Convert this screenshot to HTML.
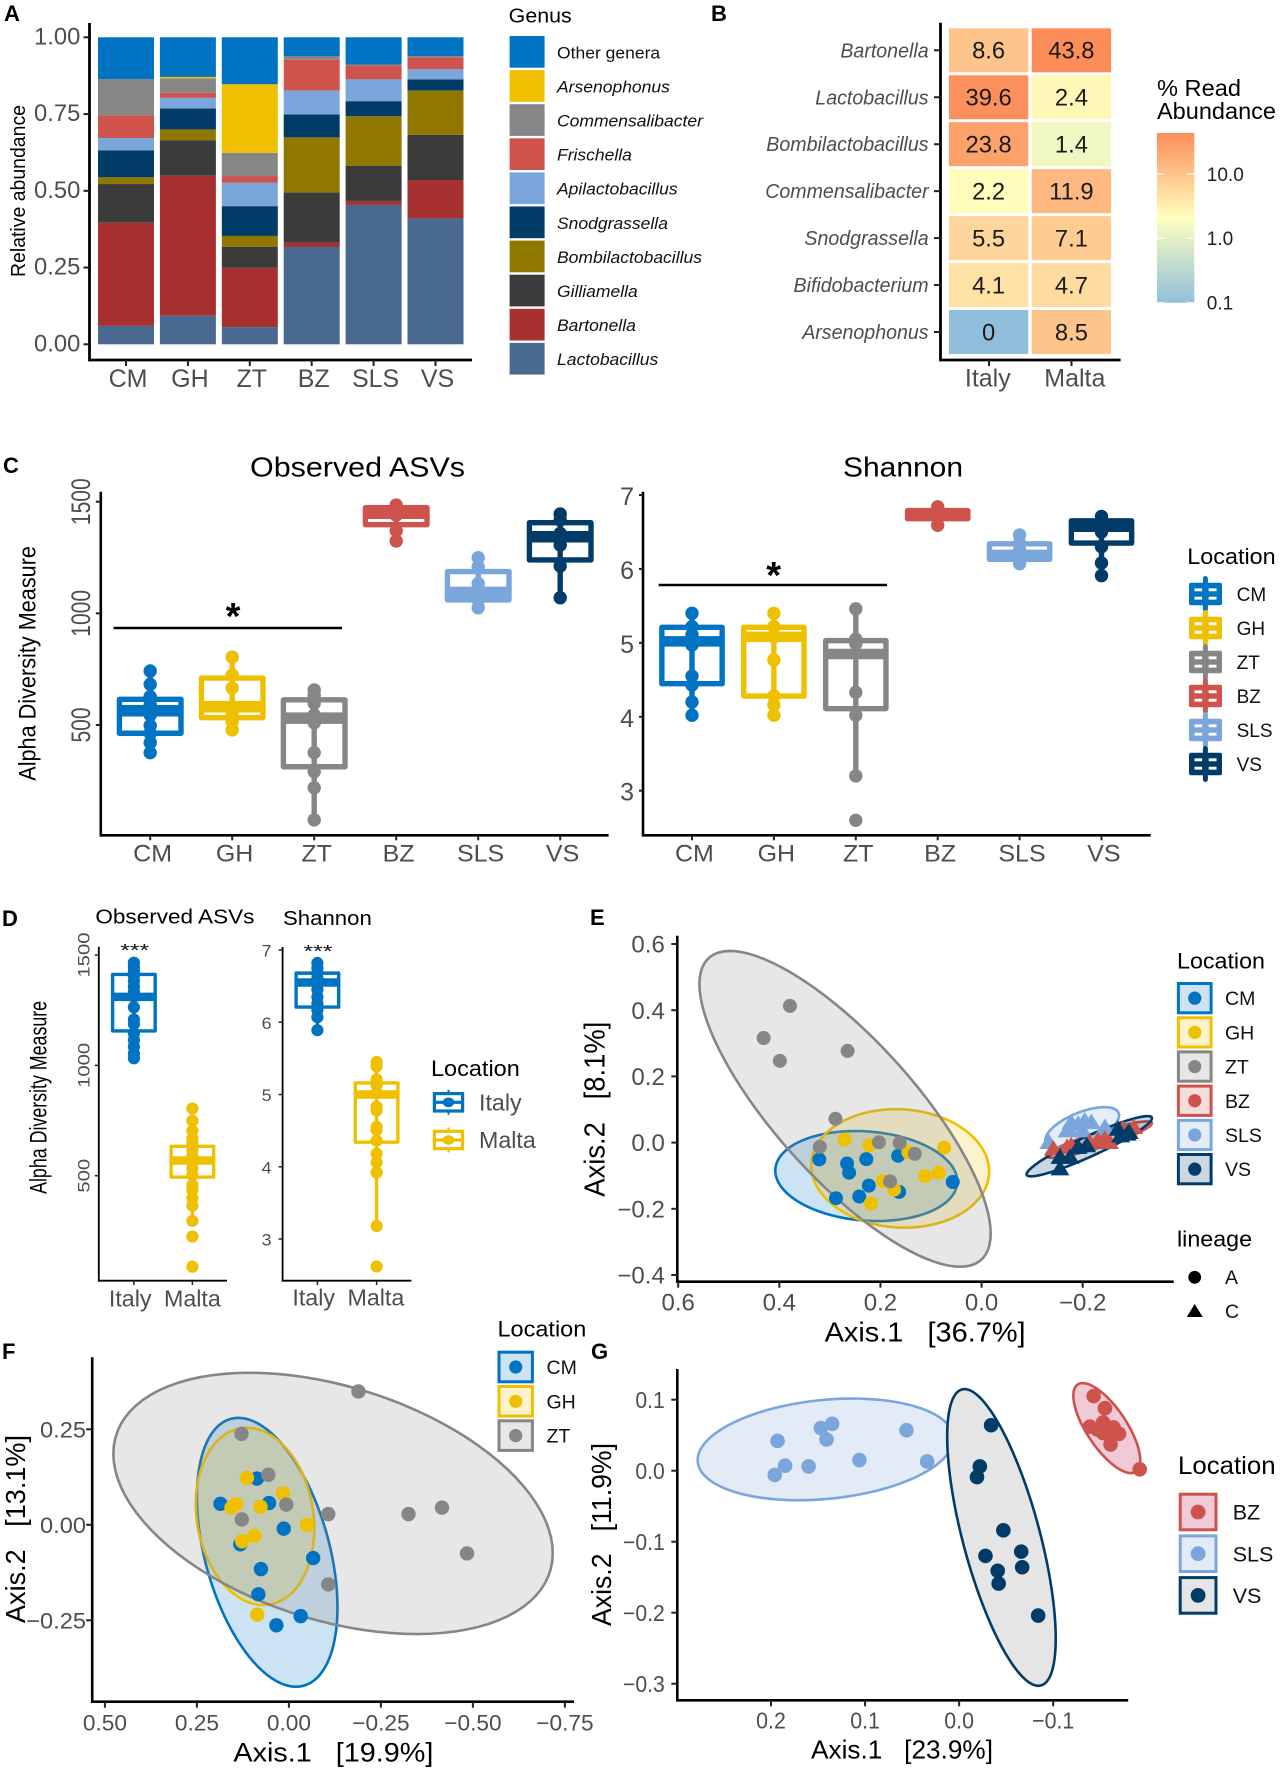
<!DOCTYPE html>
<html lang="en">
<head>
<meta charset="utf-8">
<title>Bee gut microbiota composite figure</title>
<style>
html,body{margin:0;padding:0;background:#fff;}
svg{display:block;font-family:"Liberation Sans",sans-serif;}
</style>
</head>
<body>
<svg id="figure" xmlns="http://www.w3.org/2000/svg" width="1280" height="1772" viewBox="0 0 1280 1772">
  <defs>
    <linearGradient id="heat-gradient" x1="0" y1="1" x2="0" y2="0">
      <stop offset="0" stop-color="#91BFDB"/>
      <stop offset="0.5" stop-color="#FFFFBF"/>
      <stop offset="1" stop-color="#FC8D59"/>
    </linearGradient>
  </defs>
  <rect x="0" y="0" width="1280" height="1772" fill="#fff"/>

  <g id="panel-a">
    <text x="4" y="21" font-size="22" font-weight="bold">A</text>
    <text transform="translate(25 191) rotate(-90)" text-anchor="middle" font-size="20" textLength="172" lengthAdjust="spacingAndGlyphs">Relative abundance</text>
    <text x="508.7" y="22.7" font-size="20.5" textLength="63" lengthAdjust="spacingAndGlyphs">Genus</text>
  </g>

  <g id="panel-b">
    <text x="711" y="21" font-size="22" font-weight="bold">B</text>
    <text x="1157" y="96" font-size="23" textLength="84" lengthAdjust="spacingAndGlyphs">% Read</text>
    <text x="1157" y="119" font-size="23" textLength="119" lengthAdjust="spacingAndGlyphs">Abundance</text>
    <rect x="1157" y="133" width="37.3" height="169.7" fill="url(#heat-gradient)"/>
  </g>

  <g id="panel-c">
    <text x="3" y="473" font-size="22" font-weight="bold">C</text>
    <text x="250" y="476.7" font-size="28" textLength="215" lengthAdjust="spacingAndGlyphs">Observed ASVs</text>
    <text x="843" y="476.7" font-size="28" textLength="120" lengthAdjust="spacingAndGlyphs">Shannon</text>
    <text transform="translate(35.5 663.4) rotate(-90)" text-anchor="middle" font-size="24" textLength="234.7" lengthAdjust="spacingAndGlyphs">Alpha Diversity Measure</text>
    <text x="1187.3" y="564" font-size="22" textLength="88.4" lengthAdjust="spacingAndGlyphs">Location</text>
  </g>

  <g id="panel-d">
    <text x="2" y="926" font-size="22" font-weight="bold">D</text>
    <text x="95.4" y="923.3" font-size="20.5" textLength="159" lengthAdjust="spacingAndGlyphs">Observed ASVs</text>
    <text x="283" y="925" font-size="20.5" textLength="88.8" lengthAdjust="spacingAndGlyphs">Shannon</text>
    <text transform="translate(46.5 1097.4) rotate(-90)" text-anchor="middle" font-size="24" textLength="193" lengthAdjust="spacingAndGlyphs">Alpha Diversity Measure</text>
    <text x="431" y="1076" font-size="22" textLength="88.8" lengthAdjust="spacingAndGlyphs">Location</text>
  </g>

  <g id="panel-e">
    <text x="590" y="925" font-size="22" font-weight="bold">E</text>
    <text x="824.6" y="1341.7" font-size="28" textLength="201" lengthAdjust="spacingAndGlyphs">Axis.1 &#160; [36.7%]</text>
    <text transform="translate(604.5 1109.2) rotate(-90)" text-anchor="middle" font-size="29" textLength="175" lengthAdjust="spacingAndGlyphs">Axis.2 &#160; [8.1%]</text>
    <text x="1177" y="968.3" font-size="22" textLength="88" lengthAdjust="spacingAndGlyphs">Location</text>
    <text x="1177" y="1246.7" font-size="22" textLength="75" lengthAdjust="spacingAndGlyphs">lineage</text>
  </g>

  <g id="panel-f">
    <text x="2" y="1359" font-size="22" font-weight="bold">F</text>
    <text x="233.4" y="1761.7" font-size="27" textLength="200" lengthAdjust="spacingAndGlyphs">Axis.1 &#160; [19.9%]</text>
    <text transform="translate(24.9 1529) rotate(-90)" text-anchor="middle" font-size="28" textLength="188" lengthAdjust="spacingAndGlyphs">Axis.2 &#160; [13.1%]</text>
    <text x="497.5" y="1336.7" font-size="22" textLength="88.8" lengthAdjust="spacingAndGlyphs">Location</text>
  </g>

  <g id="panel-g">
    <text x="591" y="1359" font-size="22" font-weight="bold">G</text>
    <text x="811" y="1758.3" font-size="26" textLength="182" lengthAdjust="spacingAndGlyphs">Axis.1 &#160; [23.9%]</text>
    <text transform="translate(611 1534.5) rotate(-90)" text-anchor="middle" font-size="28" textLength="183" lengthAdjust="spacingAndGlyphs">Axis.2 &#160; [11.9%]</text>
    <text x="1178" y="1474" font-size="25" textLength="97.6" lengthAdjust="spacingAndGlyphs">Location</text>
  </g>
</svg>

<script>
/* ---------- shared categories ---------- */
const sites = ['CM','GH','ZT','BZ','SLS','VS'];
const siteColors = ['#0073C2','#EFC000','#868686','#CD534C','#7AA6DC','#003C67'];

/* ---------- panel A: stacked bars ---------- */
const aTicks = [0,0.25,0.5,0.75,1];
const aTickLabels = ['0.00','0.25','0.50','0.75','1.00'];
const lactobacillus = [0.060,0.093,0.056,0.317,0.454,0.410];
const bartonella = [0.336,0.456,0.193,0.014,0.013,0.125];
const gilliamella = [0.126,0.116,0.069,0.164,0.114,0.147];
const bombilactobacillus = [0.022,0.035,0.035,0.179,0.162,0.145];
const snodgrassella = [0.088,0.068,0.097,0.075,0.049,0.036];
const apilactobacillus = [0.040,0.035,0.076,0.078,0.071,0.033];
const frischella = [0.074,0.016,0.022,0.100,0.046,0.039];
const commensalibacter = [0.118,0.047,0.076,0.012,0.002,0.004];
const arsenophonus = [0,0.005,0.223,0,0,0];
const otherGenera = [0.136,0.129,0.153,0.061,0.089,0.061];
const genusNames = ['Lactobacillus','Bartonella','Gilliamella','Bombilactobacillus','Snodgrassella','Apilactobacillus','Frischella','Commensalibacter','Arsenophonus','Other genera'];
const genusColors = ['#4A6990','#A73030','#3B3B3B','#8F7700','#003C67','#7AA6DC','#CD534C','#868686','#EFC000','#0073C2'];
const genusSeries = [lactobacillus,bartonella,gilliamella,bombilactobacillus,snodgrassella,apilactobacillus,frischella,commensalibacter,arsenophonus,otherGenera];

/* ---------- panel B: heatmap ---------- */
const heatGenera = ['Bartonella','Lactobacillus','Bombilactobacillus','Commensalibacter','Snodgrassella','Bifidobacterium','Arsenophonus'];
const heatCountries = ['Italy','Malta'];
const heatItaly = [8.6,39.6,23.8,2.2,5.5,4.1,0];
const heatMalta = [43.8,2.4,1.4,11.9,7.1,4.7,8.5];
const heatLegendTicks = [0.1,1,10];
const heatLegendLabels = ['0.1','1.0','10.0'];

/* ---------- panel C: Observed ASVs ---------- */
const cObsTicks = [500,1000,1500];
const cObsQ1 = [463,533,313,1397,1060,1239];
const cObsMedian = [564,582,531,1448,1094,1343];
const cObsQ3 = [615,710,613,1473,1187,1406];
const cObsLow = [376,478,75,1324,1025,1070];
const cObsHigh = [742,804,657,1485,1249,1445];
const cObsCM = [742,682,627,590,564,545,497,463,421,376];
const cObsGH = [804,724,666,582,560,515,478];
const cObsZT = [657,634,597,545,510,376,291,219,75];
const cObsBZ = [1485,1460,1440,1370,1324];
const cObsSLS = [1249,1209,1134,1090,1060,1025];
const cObsVS = [1445,1418,1358,1328,1306,1212,1070];

/* ---------- panel C: Shannon ---------- */
const cShanTicks = [3,4,5,6,7];
const cShanQ1 = [4.447,4.28,4.11,6.68,6.13,6.35];
const cShanMedian = [5.02,5.08,4.85,6.74,6.19,6.57];
const cShanQ3 = [5.21,5.21,5.03,6.79,6.34,6.65];
const cShanLow = [4.02,4.02,3.20,6.59,6.07,5.91];
const cShanHigh = [5.40,5.40,5.46,6.84,6.46,6.71];
const cShanCM = [5.40,5.22,5.11,5.02,4.97,4.55,4.43,4.20,4.02];
const cShanGH = [5.40,5.22,5.08,4.77,4.28,4.16,4.02];
const cShanZT = [5.46,5.05,4.99,4.86,4.33,4.02,3.20,2.60];
const cShanBZ = [6.84,6.73,6.59];
const cShanSLS = [6.46,6.35,6.26,6.17,6.07];
const cShanVS = [6.71,6.62,6.50,6.30,6.08,5.91];

/* ---------- panel D ---------- */
const countries = ['Italy','Malta'];
const countryColors = ['#0073C2','#EFC000'];
const dObsTicks = [500,1000,1500];
const dObsQ1 = [1156,494];
const dObsMedian = [1310,569];
const dObsQ3 = [1412,633];
const dObsLow = [1032,295];
const dObsHigh = [1465,804];
const dObsItaly = [1465,1447,1427,1405,1382,1356,1334,1311,1263,1208,1187,1145,1115,1085,1054,1032];
const dObsMalta = [804,749,704,669,647,616,586,563,533,503,458,435,397,364,295,224,88];
const dShanTicks = [3,4,5,6,7];
const dShanQ1 = [6.21,4.34];
const dShanMedian = [6.55,5.0];
const dShanQ3 = [6.68,5.16];
const dShanLow = [5.89,3.18];
const dShanHigh = [6.82,5.45];
const dShanItaly = [6.82,6.75,6.68,6.61,6.54,6.45,6.35,6.26,6.17,6.07,5.89];
const dShanMalta = [5.45,5.39,5.21,5.13,5.02,4.83,4.78,4.55,4.51,4.36,4.18,4.06,3.92,3.18,2.62];

/* ---------- panel E ---------- */
const eXTicks = [0.6,0.4,0.2,0,-0.2];
const eXLabels = ['0.6','0.4','0.2','0.0','\u22120.2'];
const eYTicks = [0.6,0.4,0.2,0,-0.2,-0.4];
const eYLabels = ['0.6','0.4','0.2','0.0','\u22120.2','\u22120.4'];
const eEllipseCx = [0.228,0.161,0.270,-0.233,-0.199,-0.213];
const eEllipseCy = [-0.101,-0.078,0.102,0.009,0.045,-0.011];
const eEllipseHx = [0.180,0.176,0.288,0.104,0.073,0.124];
const eEllipseHy = [0.136,0.179,0.477,0.055,0.062,0.091];
const eEllipseRho = [0.12,0.05,0.79,-0.90,-0.60,-0.93];
const eCMx = [0.321,0.266,0.262,0.228,0.165,0.223,0.288,0.242,0.163,0.057];
const eCMy = [-0.051,-0.063,-0.091,-0.050,-0.040,-0.130,-0.168,-0.163,-0.149,-0.119];
const eGHx = [0.271,0.222,0.145,0.074,0.112,0.085,0.195,0.173,0.219];
const eGHy = [0.009,-0.008,-0.029,-0.015,-0.101,-0.091,-0.116,-0.142,-0.184];
const eZTx = [0.379,0.431,0.399,0.265,0.289,0.320,0.203,0.162,0.132,0.181];
const eZTy = [0.413,0.316,0.247,0.277,0.072,-0.013,0.001,-0.001,-0.034,-0.117];
const eBZx = [-0.142,-0.169,-0.213,-0.230,-0.244,-0.253,-0.301,-0.279,-0.177];
const eBZy = [-0.018,-0.013,0.002,0.007,0.012,0.002,0.047,0.042,-0.008];
const eSLSx = [-0.133,-0.169,-0.177,-0.191,-0.204,-0.217,-0.173,-0.200,-0.244];
const eSLSy = [0.002,0.037,0.062,0.057,0.067,0.062,0.042,0.037,0.047];
const eVSx = [-0.155,-0.155,-0.175,-0.191,-0.208,-0.270,-0.288,-0.275,-0.292];
const eVSy = [-0.078,-0.043,-0.043,-0.013,-0.008,0.042,0.027,0.022,0.032];

/* ---------- panel F ---------- */
const fSites = ['CM','GH','ZT'];
const fColors = ['#0073C2','#EFC000','#868686'];
const fXTicks = [0.5,0.25,0,-0.25,-0.5,-0.75];
const fXLabels = ['0.50','0.25','0.00','\u22120.25','\u22120.50','\u22120.75'];
const fYTicks = [0.25,0,-0.25];
const fYLabels = ['0.25','0.00','\u22120.25'];
const fEllipseCx = [0.059,0.092,-0.120];
const fEllipseCy = [-0.072,0.022,0.056];
const fEllipseHx = [0.191,0.161,0.597];
const fEllipseHy = [0.352,0.232,0.342];
const fEllipseRho = [0.41,0.14,0.38];
const fCMx = [0.087,0.186,0.054,0.014,0.132,-0.066,0.076,0.083,-0.032,0.034];
const fCMy = [0.121,0.055,0.057,-0.010,-0.051,-0.087,-0.116,-0.182,-0.239,-0.263];
const fGHx = [0.114,0.144,0.156,0.016,0.077,-0.049,0.094,0.127,0.086];
const fGHy = [0.123,0.054,0.045,0.082,0.047,0,-0.029,-0.043,-0.235];
const fZTx = [-0.189,0.129,0.056,0.007,0.128,-0.107,-0.325,-0.416,-0.484,-0.107];
const fZTy = [0.349,0.238,0.131,0.053,0.014,0.028,0.028,0.045,-0.075,-0.156];

/* ---------- panel G ---------- */
const gSites = ['BZ','SLS','VS'];
const gColors = ['#CD534C','#7AA6DC','#003C67'];
const gFills = ['#F0CAD6','#E3EBF7','#E5E5E5'];
const gXTicks = [0.2,0.1,0,-0.1];
const gXLabels = ['0.2','0.1','0.0','\u22120.1'];
const gYTicks = [0.1,0,-0.1,-0.2,-0.3];
const gYLabels = ['0.1','0.0','\u22120.1','\u22120.2','\u22120.3'];
const gEllipseCx = [-0.157,0.142,-0.045];
const gEllipseCy = [0.060,0.030,-0.094];
const gEllipseHx = [0.0356,0.136,0.0577];
const gEllipseHy = [0.0634,0.0716,0.209];
const gEllipseRho = [0.72,-0.21,0.68];
const gBZx = [-0.143,-0.155,-0.139,-0.147,-0.153,-0.157,-0.164,-0.170,-0.161,-0.153,-0.192];
const gBZy = [0.105,0.088,0.062,0.058,0.068,0.053,0.061,0.052,0.037,0.053,0.002];
const gSLSx = [0.193,0.196,0.185,0.160,0.147,0.135,0.141,0.106,0.056,0.034];
const gSLSy = [0.042,-0.006,0.007,0.006,0.060,0.066,0.044,0.015,0.057,0.013];
const gVSx = [-0.034,-0.022,-0.019,-0.047,-0.066,-0.067,-0.028,-0.041,-0.042,-0.084];
const gVSy = [0.064,0.006,-0.009,-0.084,-0.114,-0.136,-0.120,-0.141,-0.159,-0.204];

/* ---------- helpers ---------- */
const NS = 'http://www.w3.org/2000/svg';
function mk(tag, attrs, name, parent) {
  const el = document.createElementNS(NS, tag);
  for (const k in attrs) el.setAttribute(k, attrs[k]);
  
  
  parent.appendChild(el);
  return el;
}
function txt(parent, x, y, str, o, name) {
  let tf = 'translate(' + x + ' ' + y + ')';
  if (o.rot) tf += ' rotate(' + o.rot + ')';
  if (o.sx) tf += ' scale(' + o.sx + ' 1)';
  const el = mk('text', {
    transform: tf,
    'font-size': o.size,
    'text-anchor': o.anchor || 'start',
    fill: o.fill || '#4d4d4d',
    'font-style': o.italic ? 'italic' : 'normal',
    'font-weight': o.bold ? 'bold' : 'normal'
  }, name, parent);
  el.textContent = str;
  return el;
}
function linear(d0, r0, d1, r1) {
  return function (v) { return r0 + (v - d0) * (r1 - r0) / (d1 - d0); };
}
function line(parent, x1, y1, x2, y2, stroke, sw, name, cap) {
  return mk('line', {x1: x1, y1: y1, x2: x2, y2: y2, stroke: stroke, 'stroke-width': sw, 'stroke-linecap': cap || 'butt'}, name, parent);
}
function frame(parent, ax, top, ay, right, sw) {
  line(parent, ax, top, ax, ay + sw / 2, '#000', sw, 'y-axis-line');
  line(parent, ax, ay, right, ay, '#000', sw, 'x-axis-line');
}
function ticksY(parent, values, labels, y, ax, len, sw, o) {
  values.forEach(function (v, i) {
    line(parent, ax - len, y(v), ax, y(v), '#222', sw, 'y-axis-tick');
    if (o.rot) {
      txt(parent, o.x, y(v), labels[i], {size: o.size, sx: o.sx, rot: -90, anchor: 'middle'}, 'y-axis-tick-label');
    } else {
      txt(parent, o.x, y(v) + (o.dy === undefined ? o.size * 0.36 : o.dy), labels[i], {size: o.size, sx: o.sx, anchor: 'end'}, 'y-axis-tick-label');
    }
  });
}
function ticksX(parent, values, labels, x, ay, len, sw, o) {
  values.forEach(function (v, i) {
    line(parent, x(v), ay, x(v), ay + len, '#222', sw, 'x-axis-tick');
    txt(parent, x(v) + (o.dx || 0), o.y, labels[i], {size: o.size, sx: o.sx, anchor: 'middle'}, 'x-axis-tick-label');
  });
}
function boxplot(parent, xc, w, q1, med, q3, low, high, pts, y, color, sw, medw, r, site) {
  line(parent, xc, y(low), xc, y(high), color, sw, 'whisker-' + site);
  const top = y(q3), bot = y(q1);
  mk('rect', {x: xc - w / 2 + sw / 2, y: top, width: w - sw, height: bot - top, fill: 'none', stroke: color, 'stroke-width': sw, 'stroke-linejoin': 'round'}, 'box-' + site, parent);
  line(parent, xc - w / 2 + sw / 2, y(med), xc + w / 2 - sw / 2, y(med), color, medw, 'median-' + site);
  pts.forEach(function (p) {
    mk('circle', {cx: xc, cy: y(p), r: r, fill: color}, 'point-' + site, parent);
  });
}
function ellipsePath(cx, cy, hx, hy, rho, sx, sy) {
  const k = Math.sqrt(1 - rho * rho);
  let d = '';
  for (let a = 0; a < 96; a++) {
    const t = a / 96 * 2 * Math.PI;
    const dx = hx * Math.cos(t);
    const dy = hy * (rho * Math.cos(t) + k * Math.sin(t));
    d += (a ? 'L' : 'M') + sx(cx + dx).toFixed(2) + ' ' + sy(cy + dy).toFixed(2);
  }
  return d + 'Z';
}
function scatterLegend(parent, labels, colors, fills, kx, ky, kw, kh, step, lx, fs, r) {
  labels.forEach(function (s, i) {
    const top = ky + step * i;
    mk('rect', {x: kx + 1.5, y: top + 1.5, width: kw - 3, height: kh - 3, fill: fills[i], stroke: colors[i], 'stroke-width': 3}, 'legend-key-' + s, parent);
    mk('circle', {cx: kx + kw / 2, cy: top + kh / 2, r: r, fill: colors[i]}, 'legend-dot-' + s, parent);
    txt(parent, lx, top + kh / 2 + fs * 0.36, s, {size: fs, fill: '#111', sx: 1}, 'legend-entry-' + s);
  });
}
function hexToFill(c) {
  const n = parseInt(c.slice(1), 16);
  const ch = function (v) { return Math.round(255 - (255 - v) * 0.2); };
  return 'rgb(' + ch(n >> 16 & 255) + ',' + ch(n >> 8 & 255) + ',' + ch(n & 255) + ')';
}

/* ---------- draw panel A ---------- */
(function () {
  const g = document.getElementById('panel-a');
  const y = linear(0, 344.3, 1, 37.3);
  const x = function (i) { return 126 + 61.9 * i; };
  sites.forEach(function (s, i) {
    let acc = 0;
    genusSeries.forEach(function (series, k) {
      const v = series[i];
      if (v > 0) {
        mk('rect', {x: x(i) - 28, y: y(acc + v), width: 56, height: y(acc) - y(acc + v), fill: genusColors[k]}, 'bar-' + s + '-' + genusNames[k].toLowerCase().replace(' ', '-'), g);
      }
      acc += v;
    });
  });
  frame(g, 89.5, 23, 360, 472, 2.8);
  ticksY(g, aTicks, aTickLabels, y, 89.5, 6, 2, {x: 80.3, size: 24.5, sx: 0.97, dy: 7});
  ticksX(g, sites.map(function (s, i) { return i; }), sites, x, 360, 6, 2, {y: 387, size: 25, sx: 1, dx: 2});
  const order = genusNames.slice().reverse();
  const colors = genusColors.slice().reverse();
  order.forEach(function (n, i) {
    mk('rect', {x: 509.6, y: 36 + 34.1 * i, width: 35, height: 31.7, fill: colors[i]}, 'legend-key-' + n.toLowerCase().replace(' ', '-'), g);
    txt(g, 557, 52.3 + 34.1 * i + 6, n, {size: 17, sx: 1.03, fill: '#111', italic: n !== 'Other genera'}, 'legend-entry-' + n.toLowerCase().replace(' ', '-'));
  });
})();

/* ---------- draw panel B ---------- */
(function () {
  const g = document.getElementById('panel-b');
  const rowY = function (i) { return 50.3 + 46.95 * i; };
  const colX = function (i) { return 988.6 + 82.8 * i; };
  const low = [145, 191, 219], mid = [255, 255, 191], high = [252, 141, 89];
  function heat(v) {
    const t = (Math.log10(Math.max(v, 0.1)) + 1) / 2.64;
    const a = t < 0.5 ? low : mid, b = t < 0.5 ? mid : high;
    const u = t < 0.5 ? t * 2 : Math.pow((t - 0.5) * 2, 0.88);
    return 'rgb(' + a.map(function (c, k) { return Math.round(c + (b[k] - c) * u); }).join(',') + ')';
  }
  [heatItaly, heatMalta].forEach(function (vals, c) {
    vals.forEach(function (v, r) {
      mk('rect', {x: colX(c) - 39.7, y: rowY(r) - 22, width: 79.4, height: 44, fill: heat(v)}, 'heat-cell-' + heatCountries[c].toLowerCase() + '-' + heatGenera[r].toLowerCase(), g);
      txt(g, colX(c), rowY(r) + 8.4, String(v), {size: 24, sx: 0.99, anchor: 'middle', fill: '#1a1a1a'}, 'heat-value');
    });
  });
  frame(g, 940.5, 22.7, 360, 1120.6, 2.8);
  heatGenera.forEach(function (n, r) {
    line(g, 934, rowY(r), 940.5, rowY(r), '#222', 2, 'y-axis-tick');
    txt(g, 928.6, rowY(r) + 7, n, {size: 20, sx: 0.98, anchor: 'end', italic: true}, 'y-axis-tick-label');
  });
  heatCountries.forEach(function (n, c) {
    const tx = [989, 1071.5][c];
    line(g, tx, 360, tx, 366, '#222', 2, 'x-axis-tick');
    txt(g, [987.8, 1074.8][c], 386.7, n, {size: 25, sx: 1, anchor: 'middle'}, 'x-axis-tick-label');
  });
  const ly = linear(-1, 302.7, 1, 174);
  heatLegendTicks.forEach(function (v, i) {
    const yy = ly(Math.log10(v));
    line(g, 1157, yy, 1164.5, yy, '#fff', 1.2, 'colorbar-tick');
    line(g, 1186.8, yy, 1194.3, yy, '#fff', 1.2, 'colorbar-tick');
    txt(g, 1206.8, yy + 6.8, heatLegendLabels[i], {size: 19, sx: 1, fill: '#222'}, 'colorbar-label');
  });
})();

/* ---------- draw panel C ---------- */
(function () {
  const g = document.getElementById('panel-c');
  const yL = linear(1500, 501.7, 500, 725);
  const xL = function (i) { return 150.2 + 82 * i; };
  const obsPts = [cObsCM, cObsGH, cObsZT, cObsBZ, cObsSLS, cObsVS];
  sites.forEach(function (s, i) {
    boxplot(g, xL(i), 67, cObsQ1[i], cObsMedian[i], cObsQ3[i], cObsLow[i], cObsHigh[i], obsPts[i], yL, siteColors[i], 5.4, 11.5, 6.7, 'obs-' + s);
  });
  frame(g, 100.8, 491.7, 835.3, 608.6, 2.6);
  ticksY(g, cObsTicks, cObsTicks.map(String), yL, 100.8, 5, 2, {x: 90, size: 27, sx: 0.78, rot: true});
  ticksX(g, sites.map(function (s, i) { return i; }), sites, xL, 835.3, 5, 2, {y: 861.7, size: 24.5, sx: 1.02, dx: 2.4});
  line(g, 113.5, 628, 342, 628, '#000', 2.6, 'significance-bar');
  txt(g, 233, 629, '*', {size: 38, bold: true, fill: '#000', anchor: 'middle'}, 'significance-star');

  const yR = linear(7, 495, 3, 790.7);
  const xR = function (i) { return 692 + 81.9 * i; };
  const shanPts = [cShanCM, cShanGH, cShanZT, cShanBZ, cShanSLS, cShanVS];
  sites.forEach(function (s, i) {
    boxplot(g, xR(i), 65.7, cShanQ1[i], cShanMedian[i], cShanQ3[i], cShanLow[i], cShanHigh[i], shanPts[i], yR, siteColors[i], 5.4, 10.5, 6.7, 'shannon-' + s);
  });
  frame(g, 643, 491.7, 835.3, 1150.7, 2.6);
  ticksY(g, cShanTicks, cShanTicks.map(String), yR, 643, 4, 2, {x: 634, size: 25, sx: 1, dy: 10});
  ticksX(g, sites.map(function (s, i) { return i; }), sites, xR, 835.3, 5, 2, {y: 861.7, size: 24.5, sx: 1.02, dx: 2.4});
  line(g, 658.7, 585, 887, 585, '#000', 2.6, 'significance-bar');
  txt(g, 773.6, 588, '*', {size: 38, bold: true, fill: '#000', anchor: 'middle'}, 'significance-star');

  sites.forEach(function (s, i) {
    const c = 594 + 34 * i, col = siteColors[i];
    line(g, 1205.4, c - 15.5, 1205.4, c + 15.5, col, 5, 'legend-whisker-' + s, 'round');
    mk('rect', {x: 1189, y: c - 11.3, width: 33, height: 22.6, rx: 2, fill: col}, 'legend-key-' + s, g);
    line(g, 1194.5, c - 4.2, 1216.5, c - 4.2, '#fff', 2.8, 'legend-median-' + s);
    line(g, 1194.5, c + 4.2, 1216.5, c + 4.2, '#fff', 2.8, 'legend-median-' + s);
    line(g, 1205.4, c - 11, 1205.4, c + 11, col, 6.5, 'legend-center-' + s);
    mk('circle', {cx: 1205.4, cy: c, r: 4.5, fill: col}, 'legend-dot-' + s, g);
    txt(g, 1236.6, c + 6.8, s, {size: 19, sx: 1, fill: '#111'}, 'legend-entry-' + s);
  });
})();

/* ---------- draw panel D ---------- */
(function () {
  const g = document.getElementById('panel-d');
  const yL = linear(1500, 955, 500, 1175.7);
  const xL = [133.9, 192.4];
  const obs = [dObsItaly, dObsMalta];
  countries.forEach(function (s, i) {
    boxplot(g, xL[i], 46, dObsQ1[i], dObsMedian[i], dObsQ3[i], dObsLow[i], dObsHigh[i], obs[i], yL, countryColors[i], 3.4, 8.5, 6.1, 'obs-' + s);
  });
  frame(g, 98.8, 946.7, 1280.7, 227, 1.8);
  ticksY(g, dObsTicks, dObsTicks.map(String), yL, 98.8, 4, 1.5, {x: 89.5, size: 17, sx: 1.19, rot: true});
  countries.forEach(function (s, i) {
    line(g, xL[i], 1280.7, xL[i], 1285, '#222', 1.5, 'x-axis-tick');
    txt(g, [130.2, 192.4][i], 1306.7, s, {size: 23, sx: 1.01, anchor: 'middle'}, 'x-axis-tick-label');
  });
  txt(g, 134.7, 956, '***', {size: 18, anchor: 'middle', fill: '#111', sx: 1.38}, 'significance-stars');

  const yR = linear(7, 950, 3, 1239);
  const xR = [317.4, 376.6];
  const shan = [dShanItaly, dShanMalta];
  countries.forEach(function (s, i) {
    boxplot(g, xR[i], 46, dShanQ1[i], dShanMedian[i], dShanQ3[i], dShanLow[i], dShanHigh[i], shan[i], yR, countryColors[i], 3.4, 8.5, 6.1, 'shannon-' + s);
  });
  frame(g, 282.6, 947, 1280.7, 411.4, 1.8);
  ticksY(g, dShanTicks, dShanTicks.map(String), yR, 282.6, 4, 1.5, {x: 271.5, size: 17, sx: 1.05, dy: 6.5});
  countries.forEach(function (s, i) {
    line(g, xR[i], 1280.7, xR[i], 1285, '#222', 1.5, 'x-axis-tick');
    txt(g, [313.7, 375.9][i], 1305.7, s, {size: 23, sx: 1.01, anchor: 'middle'}, 'x-axis-tick-label');
  });
  txt(g, 318, 957, '***', {size: 18, anchor: 'middle', fill: '#111', sx: 1.38}, 'significance-stars');

  countries.forEach(function (s, i) {
    const c = 1102.3 + 37.7 * i, col = countryColors[i];
    line(g, 448.5, c - 12.5, 448.5, c + 12.5, col, 2, 'legend-whisker-' + s);
    mk('rect', {x: 434.4, y: c - 8.7, width: 28.2, height: 17.4, fill: '#fff', stroke: col, 'stroke-width': 3.2}, 'legend-key-' + s, g);
    line(g, 434.4, c, 462.6, c, col, 3.2, 'legend-median-' + s);
    mk('ellipse', {cx: 448.5, cy: c, rx: 5.8, ry: 4.8, fill: col}, 'legend-dot-' + s, g);
    txt(g, 479, c + 8, s, {size: 23, sx: 1.01}, 'legend-entry-' + s);
  });
})();

/* ---------- draw panel E ---------- */
(function () {
  const g = document.getElementById('panel-e');
  const x = linear(0.6, 678.2, -0.2, 1082.7);
  const y = linear(0.6, 944, -0.4, 1275);
  sites.forEach(function (s, i) {
    mk('path', {d: ellipsePath(eEllipseCx[i], eEllipseCy[i], eEllipseHx[i], eEllipseHy[i], eEllipseRho[i], x, y), fill: siteColors[i], 'fill-opacity': 0.2, stroke: siteColors[i], 'stroke-width': 2.6}, 'ellipse-' + s, g);
  });
  const px = [eCMx, eGHx, eZTx], py = [eCMy, eGHy, eZTy];
  px.forEach(function (xs, k) {
    xs.forEach(function (v, j) {
      mk('circle', {cx: x(v), cy: y(py[k][j]), r: 7, fill: siteColors[k]}, 'point-lineage-a-' + sites[k], g);
    });
  });
  const tx = [eBZx, eSLSx, eVSx], ty = [eBZy, eSLSy, eVSy];
  const triNames = ['BZ', 'SLS', 'VS'], triCols = [siteColors[3], siteColors[4], siteColors[5]];
  [1, 0, 2].forEach(function (k) {
    tx[k].forEach(function (v, j) {
      const cx = x(v), cy = y(ty[k][j]);
      mk('polygon', {points: (cx - 9.5) + ',' + (cy + 7) + ' ' + (cx + 9.5) + ',' + (cy + 7) + ' ' + cx + ',' + (cy - 8.5), fill: triCols[k]}, 'point-lineage-c-' + triNames[k], g);
    });
  });
  frame(g, 677.3, 935.7, 1281.7, 1173.7, 2.6);
  ticksY(g, eYTicks, eYLabels, y, 677.3, 6, 2, {x: 664.8, size: 24, sx: 1});
  ticksX(g, eXTicks, eXLabels, x, 1281.7, 6, 2, {y: 1310.7, size: 24, sx: 1});
  scatterLegend(g, sites, siteColors, siteColors.map(hexToFill), 1176.9, 982, 35.7, 32.3, 34.2, 1225, 19.5, 6.6);
  mk('circle', {cx: 1194.7, cy: 1277.3, r: 6.4, fill: '#000'}, 'lineage-a-symbol', g);
  mk('polygon', {points: '1186.7,1317 1202.7,1317 1194.7,1304', fill: '#000'}, 'lineage-c-symbol', g);
  txt(g, 1225, 1284, 'A', {size: 19.5, sx: 1, fill: '#111'}, 'lineage-entry-a');
  txt(g, 1225, 1318, 'C', {size: 19.5, sx: 1, fill: '#111'}, 'lineage-entry-c');
})();

/* ---------- draw panel F ---------- */
(function () {
  const g = document.getElementById('panel-f');
  const x = linear(0.5, 104.9, -0.75, 564.9);
  const y = linear(0.25, 1429.3, -0.25, 1620.3);
  fSites.forEach(function (s, i) {
    mk('path', {d: ellipsePath(fEllipseCx[i], fEllipseCy[i], fEllipseHx[i], fEllipseHy[i], fEllipseRho[i], x, y), fill: fColors[i], 'fill-opacity': 0.2, stroke: fColors[i], 'stroke-width': 2.6}, 'ellipse-' + s, g);
  });
  const px = [fCMx, fGHx, fZTx], py = [fCMy, fGHy, fZTy];
  px.forEach(function (xs, k) {
    xs.forEach(function (v, j) {
      mk('circle', {cx: x(v), cy: y(py[k][j]), r: 7.2, fill: fColors[k]}, 'point-' + fSites[k], g);
    });
  });
  frame(g, 92.2, 1357.3, 1701.7, 574, 2.6);
  ticksY(g, fYTicks, fYLabels, y, 92.2, 6, 2, {x: 86, size: 22.5, sx: 1.05});
  ticksX(g, fXTicks, fXLabels, x, 1701.7, 6, 2, {y: 1730.7, size: 22, sx: 1.03});
  scatterLegend(g, fSites, fColors, fColors.map(hexToFill), 497.5, 1350.7, 36.4, 32.6, 34.3, 546.5, 19.5, 6.6);
})();

/* ---------- draw panel G ---------- */
(function () {
  const g = document.getElementById('panel-g');
  const x = linear(0.2, 771, -0.1, 1053.2);
  const y = linear(0.1, 1399.7, -0.3, 1683.7);
  gSites.forEach(function (s, i) {
    mk('path', {d: ellipsePath(gEllipseCx[i], gEllipseCy[i], gEllipseHx[i], gEllipseHy[i], gEllipseRho[i], x, y), fill: gFills[i], stroke: gColors[i], 'stroke-width': 2.6}, 'ellipse-' + s, g);
  });
  const px = [gBZx, gSLSx, gVSx], py = [gBZy, gSLSy, gVSy];
  px.forEach(function (xs, k) {
    xs.forEach(function (v, j) {
      mk('circle', {cx: x(v), cy: y(py[k][j]), r: 7.3, fill: gColors[k]}, 'point-' + gSites[k], g);
    });
  });
  frame(g, 677.3, 1369, 1700.3, 1128.2, 2.6);
  ticksY(g, gYTicks, gYLabels, y, 677.3, 6, 2, {x: 664.8, size: 23, sx: 0.92});
  ticksX(g, gXTicks, gXLabels, x, 1700.3, 6, 2, {y: 1728.3, size: 23, sx: 0.93});
  scatterLegend(g, gSites, gColors, gFills, 1178.7, 1492.7, 38.8, 38.6, 41.7, 1232.7, 21.5, 7.4);
})();
</script>
</body>
</html>
